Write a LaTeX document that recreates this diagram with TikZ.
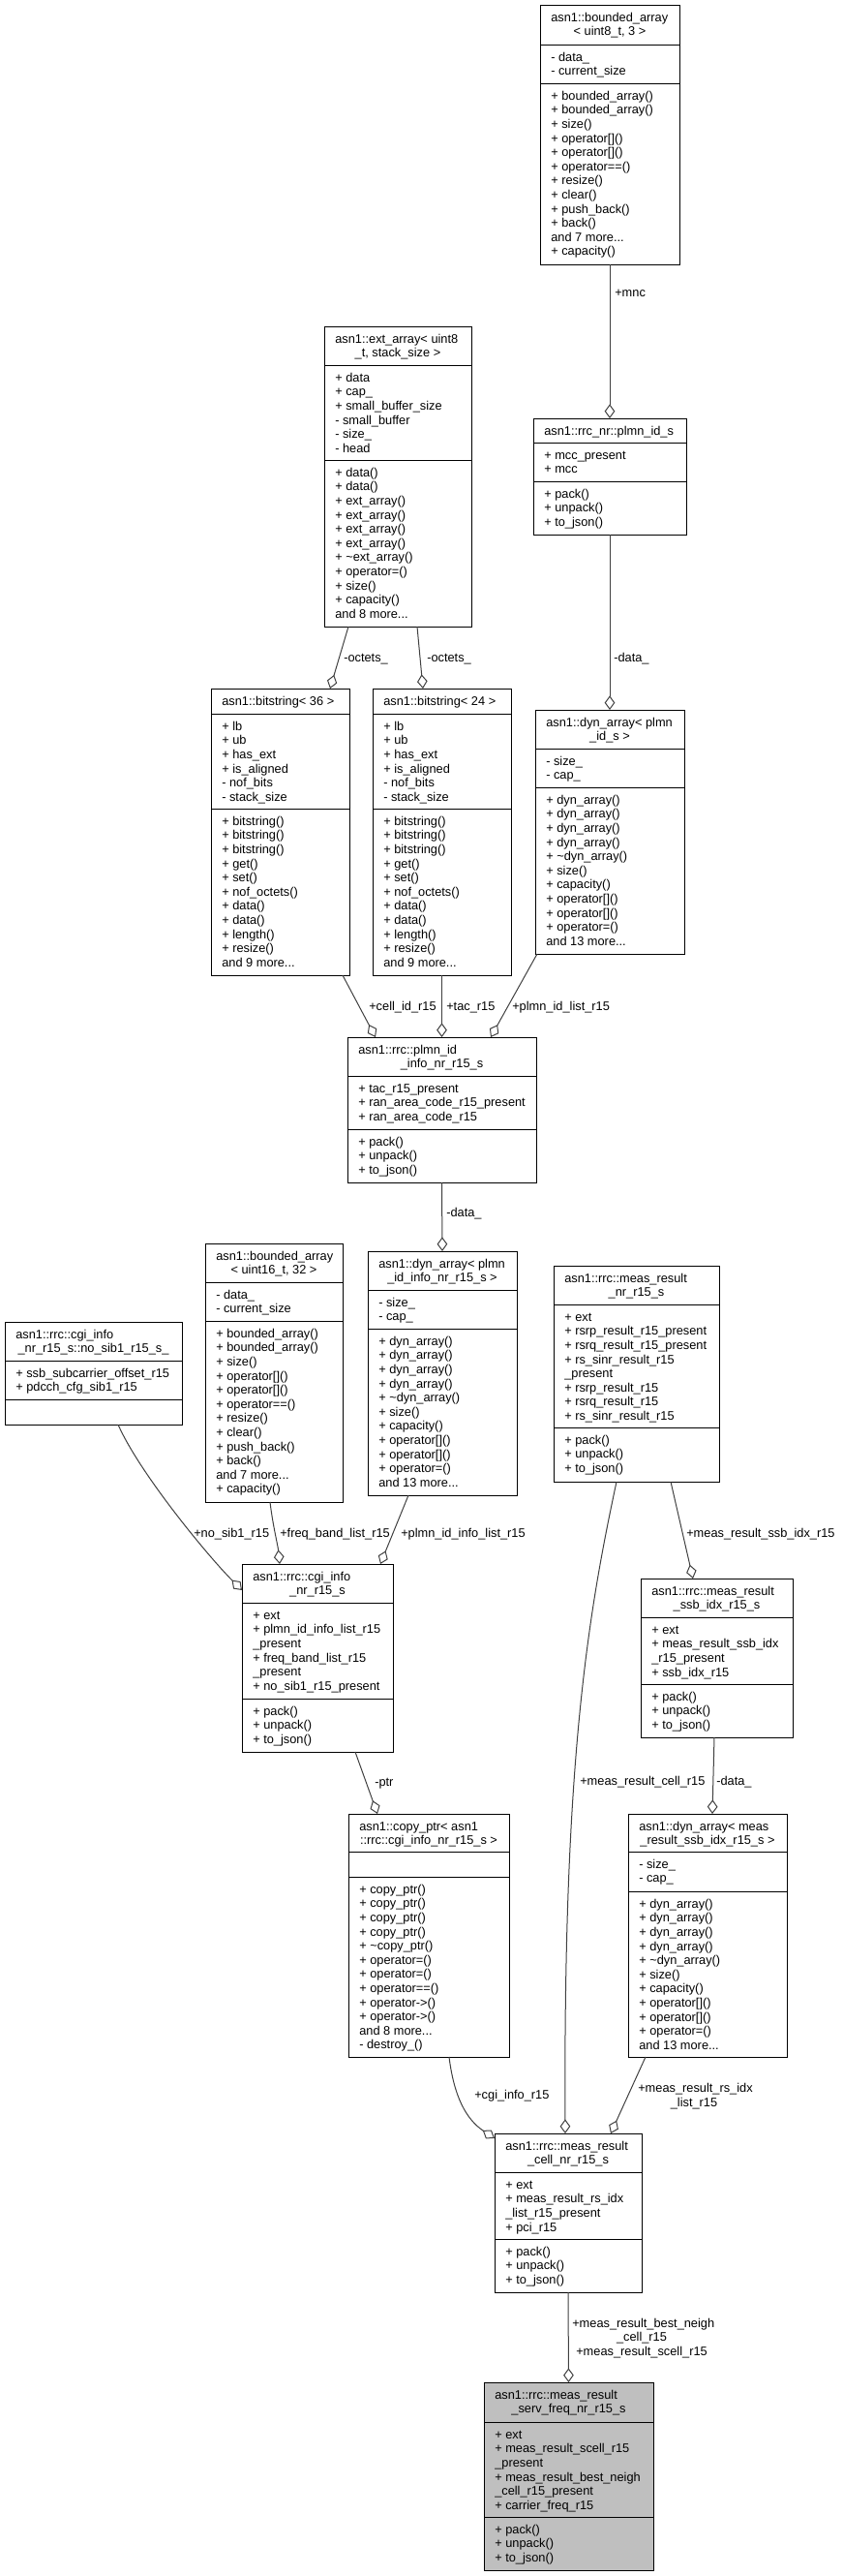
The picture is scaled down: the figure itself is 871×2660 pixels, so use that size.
\documentclass[tikz,border=0pt]{standalone}
\usepackage{fontspec}
\setmainfont{Liberation Sans}
\usetikzlibrary{arrows.meta,calc}
\definecolor{edgegrey}{HTML}{404040}
\definecolor{servfill}{HTML}{BFBFBF}
\newcommand\fs{\fontsize{9.6pt}{10.95pt}\selectfont}
\newcommand\ubox[6][white]{\node[umlbox,fill=#1,minimum width={(#4-#2)*0.75pt},minimum height={(#5-#3)*0.75pt}] (#6) at (#2,#3) {};}
\newcommand\usep[3]{\draw[sepline] (#1,#3) -- (#2,#3);}
\newcommand\utxt[4]{\node[txt] (#1) at (#2+11,#3+6.3) {\rule{0pt}{8pt}#4};}
\newcommand\utwo[4]{\node[ctr] (#1) at (#2,#3+31.6) {#4};}
\tikzset{
  umlbox/.style={draw=black,line width=0.75pt,inner sep=0pt,outer sep=0pt,anchor=north west},
  sepline/.style={draw=black,line width=0.75pt},
  txt/.style={inner sep=0pt,anchor=north west,align=left,font=\fs},
  ctr/.style={inner sep=0pt,anchor=base,font=\fs},
  lbl/.style={inner sep=0pt,anchor=base west,font=\fs},
  edge/.style={draw=edgegrey,line width=0.75pt,-{Diamond[open,length=11pt,width=8pt]}}
}
\begin{document}
\begin{tikzpicture}[x=0.75pt,y=-0.75pt]
\useasboundingbox (0,0) rectangle (871,2660);

% bounded_array<uint8_t,3>
\ubox{558}{5}{702}{273}{ba8}
\usep{558}{702}{46}\usep{558}{702}{86}
\utxt{ba8t}{558}{5}{asn1::bounded\_array}
\utwo{ba8tt}{630}{5}{< uint8\_t, 3 >}
\utxt{ba8a}{558}{46}{- data\_\\- current\_size}
\utxt{ba8m}{558}{86}{+ bounded\_array()\\+ bounded\_array()\\+ size()\\+ operator[]()\\+ operator[]()\\+ operator==()\\+ resize()\\+ clear()\\+ push\_back()\\+ back()\\and 7 more...\\+ capacity()}

% ext_array
\ubox{335}{337}{487}{647}{ext}
\usep{335}{487}{377}\usep{335}{487}{475}
\utxt{extt}{335}{337}{asn1::ext\_array< uint8}
\utwo{exttt}{411}{337}{\_t, stack\_size >}
\utxt{exta}{335}{377}{+ data\\+ cap\_\\+ small\_buffer\_size\\- small\_buffer\\- size\_\\- head}
\utxt{extm}{335}{475}{+ data()\\+ data()\\+ ext\_array()\\+ ext\_array()\\+ ext\_array()\\+ ext\_array()\\+ \textasciitilde{}ext\_array()\\+ operator=()\\+ size()\\+ capacity()\\and 8 more...}

% plmn_id_s
\ubox{551}{432}{709}{552}{pid}
\usep{551}{709}{457}\usep{551}{709}{497}
\utxt{pidt}{551}{432}{asn1::rrc\_nr::plmn\_id\_s}
\utxt{pida}{551}{457}{+ mcc\_present\\+ mcc}
\utxt{pidm}{551}{497}{+ pack()\\+ unpack()\\+ to\_json()}

% bitstring<36>
\ubox{218}{711}{361}{1007}{bs36}
\usep{218}{361}{737}\usep{218}{361}{835}
\utxt{bs36t}{218}{711}{asn1::bitstring< 36 >}
\utxt{bs36a}{218}{737}{+ lb\\+ ub\\+ has\_ext\\+ is\_aligned\\- nof\_bits\\- stack\_size}
\utxt{bs36m}{218}{835}{+ bitstring()\\+ bitstring()\\+ bitstring()\\+ get()\\+ set()\\+ nof\_octets()\\+ data()\\+ data()\\+ length()\\+ resize()\\and 9 more...}

% bitstring<24>
\ubox{385}{711}{528}{1007}{bs24}
\usep{385}{528}{737}\usep{385}{528}{835}
\utxt{bs24t}{385}{711}{asn1::bitstring< 24 >}
\utxt{bs24a}{385}{737}{+ lb\\+ ub\\+ has\_ext\\+ is\_aligned\\- nof\_bits\\- stack\_size}
\utxt{bs24m}{385}{835}{+ bitstring()\\+ bitstring()\\+ bitstring()\\+ get()\\+ set()\\+ nof\_octets()\\+ data()\\+ data()\\+ length()\\+ resize()\\and 9 more...}

% dyn_array<plmn_id_s>
\ubox{553}{733}{707}{985}{dynp}
\usep{553}{707}{773}\usep{553}{707}{813}
\utxt{dynpt}{553}{733}{asn1::dyn\_array< plmn}
\utwo{dynptt}{630}{733}{\_id\_s >}
\utxt{dynpa}{553}{773}{- size\_\\- cap\_}
\utxt{dynpm}{553}{813}{+ dyn\_array()\\+ dyn\_array()\\+ dyn\_array()\\+ dyn\_array()\\+ \textasciitilde{}dyn\_array()\\+ size()\\+ capacity()\\+ operator[]()\\+ operator[]()\\+ operator=()\\and 13 more...}

% plmn_id_info_nr_r15_s
\ubox{359}{1071}{554}{1221}{pii}
\usep{359}{554}{1111}\usep{359}{554}{1166}
\utxt{piit}{359}{1071}{asn1::rrc::plmn\_id}
\utwo{piitt}{456.5}{1071}{\_info\_nr\_r15\_s}
\utxt{piia}{359}{1111}{+ tac\_r15\_present\\+ ran\_area\_code\_r15\_present\\+ ran\_area\_code\_r15}
\utxt{piim}{359}{1166}{+ pack()\\+ unpack()\\+ to\_json()}

% bounded_array<uint16_t,32>
\ubox{212}{1284}{354}{1551}{ba16}
\usep{212}{354}{1324}\usep{212}{354}{1364}
\utxt{ba16t}{212}{1284}{asn1::bounded\_array}
\utwo{ba16tt}{283}{1284}{< uint16\_t, 32 >}
\utxt{ba16a}{212}{1324}{- data\_\\- current\_size}
\utxt{ba16m}{212}{1364}{+ bounded\_array()\\+ bounded\_array()\\+ size()\\+ operator[]()\\+ operator[]()\\+ operator==()\\+ resize()\\+ clear()\\+ push\_back()\\+ back()\\and 7 more...\\+ capacity()}

% dyn_array<plmn_id_info_nr_r15_s>
\ubox{380}{1292}{534}{1544}{dynpii}
\usep{380}{534}{1332}\usep{380}{534}{1372}
\utxt{dynpiit}{380}{1292}{asn1::dyn\_array< plmn}
\utwo{dynpiitt}{457}{1292}{\_id\_info\_nr\_r15\_s >}
\utxt{dynpiia}{380}{1332}{- size\_\\- cap\_}
\utxt{dynpiim}{380}{1372}{+ dyn\_array()\\+ dyn\_array()\\+ dyn\_array()\\+ dyn\_array()\\+ \textasciitilde{}dyn\_array()\\+ size()\\+ capacity()\\+ operator[]()\\+ operator[]()\\+ operator=()\\and 13 more...}

% cgi_info_nr_r15_s::no_sib1_r15_s_
\ubox{5}{1365}{188}{1471}{nosib}
\usep{5}{188}{1405}\usep{5}{188}{1445}
\utxt{nosibt}{5}{1365}{asn1::rrc::cgi\_info}
\utwo{nosibtt}{96.5}{1365}{\_nr\_r15\_s::no\_sib1\_r15\_s\_}
\utxt{nosiba}{5}{1405}{+ ssb\_subcarrier\_offset\_r15\\+ pdcch\_cfg\_sib1\_r15}

% meas_result_nr_r15_s
\ubox{572}{1307}{743}{1530}{mrnr}
\usep{572}{743}{1347}\usep{572}{743}{1474}
\utxt{mrnrt}{572}{1307}{asn1::rrc::meas\_result}
\utwo{mrnrtt}{657.5}{1307}{\_nr\_r15\_s}
\utxt{mrnra}{572}{1347}{+ ext\\+ rsrp\_result\_r15\_present\\+ rsrq\_result\_r15\_present\\+ rs\_sinr\_result\_r15\\\_present\\+ rsrp\_result\_r15\\+ rsrq\_result\_r15\\+ rs\_sinr\_result\_r15}
\utxt{mrnrm}{572}{1474}{+ pack()\\+ unpack()\\+ to\_json()}

% cgi_info_nr_r15_s
\ubox{250}{1615}{406}{1809}{cgi}
\usep{250}{406}{1655}\usep{250}{406}{1754}
\utxt{cgit}{250}{1615}{asn1::rrc::cgi\_info}
\utwo{cgitt}{328}{1615}{\_nr\_r15\_s}
\utxt{cgia}{250}{1655}{+ ext\\+ plmn\_id\_info\_list\_r15\\\_present\\+ freq\_band\_list\_r15\\\_present\\+ no\_sib1\_r15\_present}
\utxt{cgim}{250}{1754}{+ pack()\\+ unpack()\\+ to\_json()}

% meas_result_ssb_idx_r15_s
\ubox{662}{1630}{819}{1794}{mrssb}
\usep{662}{819}{1670}\usep{662}{819}{1739}
\utxt{mrssbt}{662}{1630}{asn1::rrc::meas\_result}
\utwo{mrssbtt}{740.5}{1630}{\_ssb\_idx\_r15\_s}
\utxt{mrssba}{662}{1670}{+ ext\\+ meas\_result\_ssb\_idx\\\_r15\_present\\+ ssb\_idx\_r15}
\utxt{mrssbm}{662}{1739}{+ pack()\\+ unpack()\\+ to\_json()}

% copy_ptr
\ubox{360}{1873}{526}{2124}{cptr}
\usep{360}{526}{1912}\usep{360}{526}{1938}
\utxt{cptrt}{360}{1873}{asn1::copy\_ptr< asn1}
\utwo{cptrtt}{443}{1873}{::rrc::cgi\_info\_nr\_r15\_s >}
\utxt{cptrm}{360}{1938}{+ copy\_ptr()\\+ copy\_ptr()\\+ copy\_ptr()\\+ copy\_ptr()\\+ \textasciitilde{}copy\_ptr()\\+ operator=()\\+ operator=()\\+ operator==()\\+ operator->()\\+ operator->()\\and 8 more...\\- destroy\_()}

% dyn_array<meas_result_ssb_idx_r15_s>
\ubox{649}{1873}{813}{2124}{dynssb}
\usep{649}{813}{1912}\usep{649}{813}{1953}
\utxt{dynssbt}{649}{1873}{asn1::dyn\_array< meas}
\utwo{dynssbtt}{731}{1873}{\_result\_ssb\_idx\_r15\_s >}
\utxt{dynssba}{649}{1912}{- size\_\\- cap\_}
\utxt{dynssbm}{649}{1953}{+ dyn\_array()\\+ dyn\_array()\\+ dyn\_array()\\+ dyn\_array()\\+ \textasciitilde{}dyn\_array()\\+ size()\\+ capacity()\\+ operator[]()\\+ operator[]()\\+ operator=()\\and 13 more...}

% meas_result_cell_nr_r15_s
\ubox{511}{2203}{663}{2367}{cell}
\usep{511}{663}{2243}\usep{511}{663}{2312}
\utxt{cellt}{511}{2203}{asn1::rrc::meas\_result}
\utwo{celltt}{587}{2203}{\_cell\_nr\_r15\_s}
\utxt{cella}{511}{2243}{+ ext\\+ meas\_result\_rs\_idx\\\_list\_r15\_present\\+ pci\_r15}
\utxt{cellm}{511}{2312}{+ pack()\\+ unpack()\\+ to\_json()}

% meas_result_serv_freq_nr_r15_s
\ubox[servfill]{500}{2460}{675}{2654}{serv}
\usep{500}{675}{2501}\usep{500}{675}{2599}
\utxt{servt}{500}{2460}{asn1::rrc::meas\_result}
\utwo{servtt}{587.5}{2460}{\_serv\_freq\_nr\_r15\_s}
\utxt{serva}{500}{2501}{+ ext\\+ meas\_result\_scell\_r15\\\_present\\+ meas\_result\_best\_neigh\\\_cell\_r15\_present\\+ carrier\_freq\_r15}
\utxt{servm}{500}{2599}{+ pack()\\+ unpack()\\+ to\_json()}

% connectors
\draw[edge] (ba8.south) -- (pid.north);
\draw[edge] ($(ext.south west)+(25,0)$) -- ($(bs36.north west)+(123,0)$);
\draw[edge] ($(ext.south west)+(96,0)$) -- ($(bs24.north west)+(52,0)$);
\draw[edge] (pid.south) -- (dynp.north);
\draw[edge] ($(bs36.south west)+(136,0)$) -- ($(pii.north west)+(29,0)$);
\draw[edge] (bs24.south) -- (pii.north);
\draw[edge] ($(dynp.south west)+(2,0)$) -- ($(pii.north west)+(148,0)$);
\draw[edge] (pii.south) -- (dynpii.north);
\draw[edge] ($(nosib.south west)+(117,0)$) .. controls +(22,50) and +(-35,-35) .. ($(cgi.north west)+(0,27)$);
\draw[edge] ($(ba16.south west)+(67,0)$) .. controls +(3,25) and +(-2,-20) .. ($(cgi.north west)+(39,0)$);
\draw[edge] ($(dynpii.south west)+(42,0)$) -- ($(cgi.north west)+(143,0)$);
\draw[edge] ($(mrnr.south west)+(121,0)$) -- ($(mrssb.north west)+(54,0)$);
\draw[edge] ($(mrnr.south west)+(65,0)$) .. controls (607,1670) and (582,1820) .. ($(cell.north west)+(73,0)$);
\draw[edge] ($(mrssb.south west)+(76,0)$) -- ($(dynssb.north west)+(87,0)$);
\draw[edge] ($(cgi.south west)+(117,0)$) -- ($(cptr.north west)+(30,0)$);
\draw[edge] ($(cptr.south west)+(104,0)$) .. controls +(5,40) and +(-30,-20) .. ($(cell.north west)+(0,5)$);
\draw[edge] ($(dynssb.south west)+(18,0)$) -- ($(cell.north west)+(120,0)$);
\draw[edge] (cell.south) -- (serv.north);

% connector labels
\node[lbl] (l1) at (635,306.5) {+mnc};
\node[lbl] (l2) at (355,683.5) {-octets\_};
\node[lbl] (l3) at (441,683.5) {-octets\_};
\node[lbl] (l4) at (634,683.5) {-data\_};
\node[lbl] (l5) at (381,1043.5) {+cell\_id\_r15};
\node[lbl] (l6) at (461,1043.5) {+tac\_r15};
\node[lbl] (l7) at (529,1043.5) {+plmn\_id\_list\_r15};
\node[lbl] (l8) at (461,1256.5) {-data\_};
\node[lbl] (l9) at (200,1587.5) {+no\_sib1\_r15};
\node[lbl] (l10) at (289,1587.5) {+freq\_band\_list\_r15};
\node[lbl] (l11) at (414,1587.5) {+plmn\_id\_info\_list\_r15};
\node[lbl] (l12) at (709,1587.5) {+meas\_result\_ssb\_idx\_r15};
\node[lbl] (l13) at (599,1843.5) {+meas\_result\_cell\_r15};
\node[lbl] (l14) at (740,1843.5) {-data\_};
\node[lbl] (l15) at (387,1844.5) {-ptr};
\node[lbl] (l16) at (490,2167.5) {+cgi\_info\_r15};
\node[lbl] (l17) at (659,2160.5) {+meas\_result\_rs\_idx};
\node[ctr] (l17b) at (717,2175.5) {\_list\_r15};
\node[lbl] (l18) at (591,2403.5) {+meas\_result\_best\_neigh};
\node[ctr] (l18b) at (663,2417.5) {\_cell\_r15};
\node[lbl] (l18c) at (595,2432.5) {+meas\_result\_scell\_r15};
\end{tikzpicture}
\end{document}
